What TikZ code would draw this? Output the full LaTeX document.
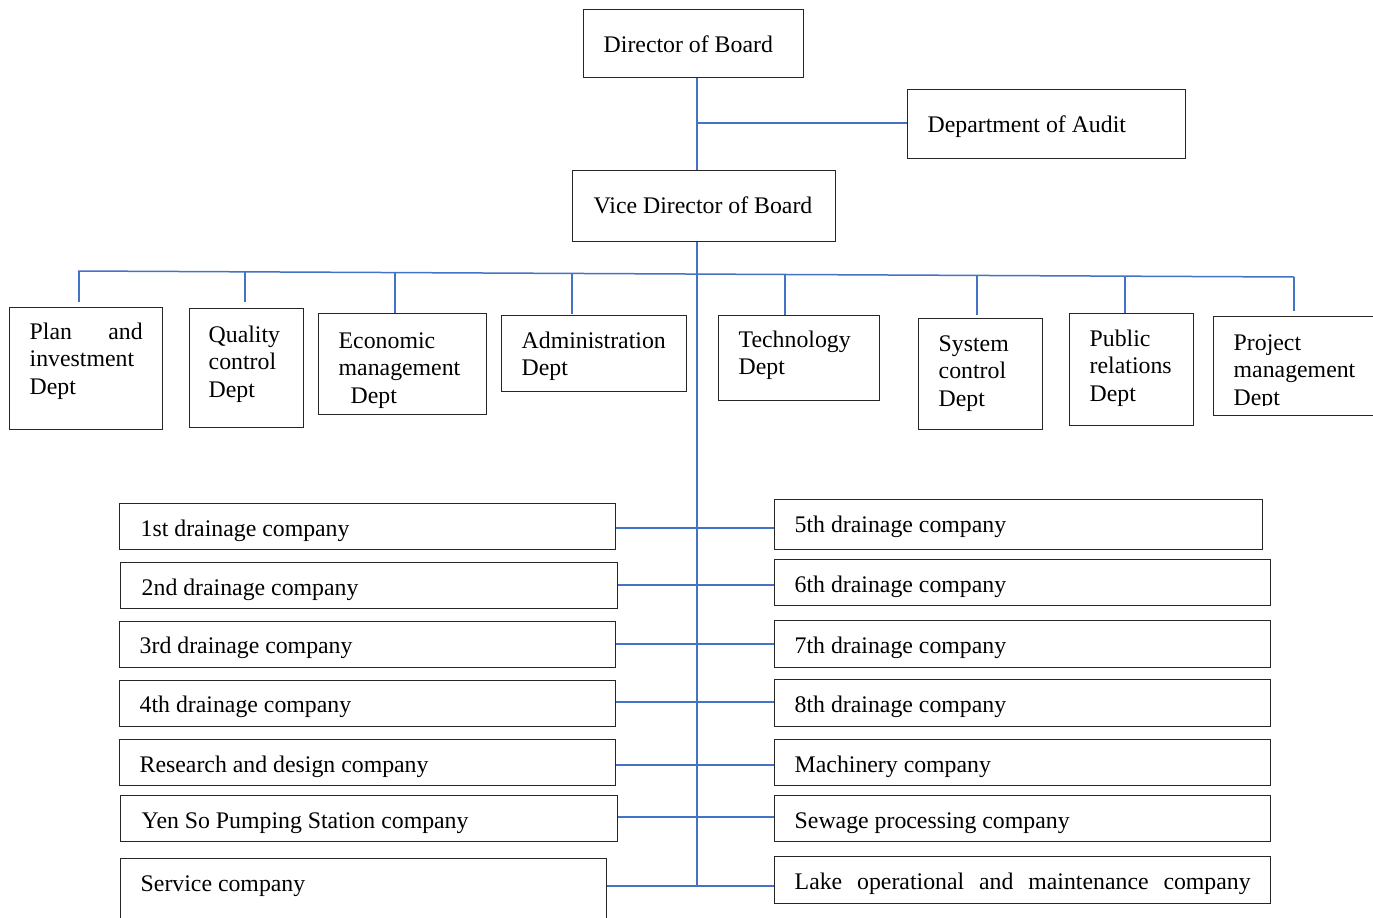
\documentclass[tikz,border=0pt]{standalone}
\usepackage{fontspec}
\setmainfont{Liberation Serif}
\definecolor{linkc}{HTML}{4472C4}
\definecolor{boxc}{HTML}{262626}
\tikzset{
  box/.style={draw=boxc, line width=1.4pt, fill=white, inner sep=0pt, anchor=north west,
    font=\fontsize{23.8}{27.7}\selectfont},
  link/.style={draw=linkc, line width=1.5pt},
}
\newcommand{\oneline}[3]{\makebox[#1pt][l]{\hspace*{#2pt}#3}}
\newcommand{\mlines}[3]{\parbox[t]{#1pt}{\raggedright\leftskip=#2pt\relax #3}}
\begin{document}
\begin{tikzpicture}[x=1pt,y=-1pt]
\useasboundingbox (0,0) rectangle (1373,918);
\clip (0,0) rectangle (1373,918);
\fill[white] (0,0) rectangle (1373,918);

% top
\node[box, text height=42.5pt, text depth=25.5pt] (dob) at (583,9) {\oneline{220}{20}{Director of Board}};
\node[box, text height=42.5pt, text depth=26.5pt] (aud) at (907,89) {\oneline{278}{20}{Department of Audit}};
\node[box, text height=42.5pt, text depth=28.5pt] (vice) at (572,170) {\oneline{263}{21}{Vice Director of Board}};

% departments
\node[box, text height=31.5pt, text depth=90.5pt] (plan) at (9,307) {\mlines{153}{20}{\makebox[113pt][s]{Plan\hfill and}\\investment\\Dept}};
\node[box, text height=33.5pt, text depth=85.5pt] (qual) at (189,308) {\mlines{114}{19}{Quality\\control\\Dept}};
\node[box, text height=34.5pt, text depth=66.5pt] (econ) at (318,313) {\mlines{168}{20}{Economic\\management\\\hspace*{12pt}Dept}};
\node[box, text height=32.5pt, text depth=43.5pt] (admin) at (501,315) {\mlines{185}{20}{Administration\\Dept}};
\node[box, text height=31.5pt, text depth=53.5pt] (tech) at (718,315) {\mlines{161}{20}{Technology\\Dept}};
\node[box, text height=32.5pt, text depth=78.5pt] (syst) at (918,318) {\mlines{124}{20}{System\\control\\Dept}};
\node[box, text height=32.5pt, text depth=79.5pt] (pub) at (1069,313) {\mlines{124}{20}{Public\\relations\\Dept}};
\node[box, text height=33.5pt, text depth=65.5pt] (proj) at (1213,316) {\mlines{190}{20}{Project\\management\\Dept}};
\fill[white] (1214,406) rectangle (1373,414.2);

% companies left
\node[box, text height=32.5pt, text depth=13.5pt] (c1) at (119,503) {\oneline{496}{21}{1st drainage company}};
\node[box, text height=32.5pt, text depth=13.5pt] (c2) at (120,562) {\oneline{497}{21}{2nd drainage company}};
\node[box, text height=31.5pt, text depth=14.5pt] (c3) at (119,621) {\oneline{496}{20}{3rd drainage company}};
\node[box, text height=31.5pt, text depth=14.5pt] (c4) at (119,680) {\oneline{496}{20}{4th drainage company}};
\node[box, text height=32.5pt, text depth=13.5pt] (rd) at (119,739) {\oneline{496}{20}{Research and design company}};
\node[box, text height=32.5pt, text depth=13.5pt] (yen) at (120,795) {\oneline{497}{21}{Yen So Pumping Station company}};
\node[box, text height=32.5pt, text depth=40pt] (svc) at (120,858) {\oneline{486}{20}{Service company}};

% companies right
\node[box, text height=32.5pt, text depth=17.5pt] (c5) at (774,499) {\oneline{488}{20}{5th drainage company}};
\node[box, text height=32.5pt, text depth=13.5pt] (c6) at (774,559) {\oneline{496}{20}{6th drainage company}};
\node[box, text height=32.5pt, text depth=14.5pt] (c7) at (774,620) {\oneline{496}{20}{7th drainage company}};
\node[box, text height=32.5pt, text depth=14.5pt] (c8) at (774,679) {\oneline{496}{20}{8th drainage company}};
\node[box, text height=32.5pt, text depth=13.5pt] (mach) at (774,739) {\oneline{496}{20}{Machinery company}};
\node[box, text height=32.5pt, text depth=13.5pt] (sew) at (774,795) {\oneline{496}{20}{Sewage processing company}};
\node[box, text height=32.5pt, text depth=14.5pt] (lake) at (774,856) {\oneline{496}{20}{\makebox[456pt][s]{Lake\hfill operational\hfill and\hfill maintenance\hfill company}}};

% trunk coordinates
\coordinate (tx) at (697,0);
\coordinate (tBot) at (697,886);
\draw[link] (tx |- dob.south) -- (tx |- vice.north);
\draw[link] (tx |- vice.south) -- (tBot);
\draw[link] ([yshift=1pt]tx |- aud.west) -- ([yshift=1pt]aud.west);

% department bus
\coordinate (d1) at (79,271);
\coordinate (d2) at (245,271.8);
\coordinate (d3) at (395,272.6);
\coordinate (d4) at (572,273.4);
\coordinate (d5) at (785,274.5);
\coordinate (d6) at (977,275.4);
\coordinate (d7) at (1125,276.2);
\coordinate (d8) at (1294,277);
\draw[link] ([xshift=-1pt]d1) -- (d8);
\draw[link, shorten >=5pt] (d1) -- (d1 |- plan.north);
\draw[link, shorten >=6pt] (d2) -- (d2 |- qual.north);
\draw[link] (d3) -- (d3 |- econ.north);
\draw[link, shorten >=1pt] (d4) -- (d4 |- admin.north);
\draw[link] (d5) -- (d5 |- tech.north);
\draw[link, shorten >=3pt] (d6) -- (d6 |- syst.north);
\draw[link] (d7) -- (d7 |- pub.north);
\draw[link, shorten >=5pt] (d8) -- (d8 |- proj.north);

% company connectors
\draw[link] ([yshift=-1.5pt]c1.east) -- ([yshift=-1.5pt]c1.east -| c5.west);
\draw[link] ([yshift=0.5pt]c2.east) -- ([yshift=0.5pt]c2.east -| c6.west);
\draw[link] ([yshift=0.5pt]c3.east) -- ([yshift=0.5pt]c3.east -| c7.west);
\draw[link] ([yshift=1.5pt]c4.east) -- ([yshift=1.5pt]c4.east -| c8.west);
\draw[link] ([yshift=-2.5pt]rd.east) -- ([yshift=-2.5pt]rd.east -| mach.west);
\draw[link] ([yshift=1.5pt]yen.east) -- ([yshift=1.5pt]yen.east -| sew.west);
\draw[link] (svc.east |- tBot) -- (lake.west |- tBot);
\end{tikzpicture}
\end{document}
